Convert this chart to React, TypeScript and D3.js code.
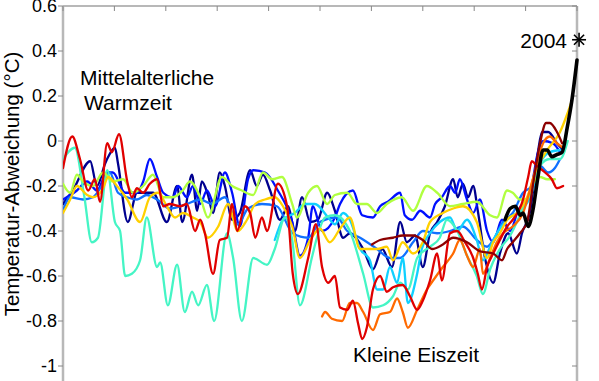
import React from "react";
import * as d3 from "d3";

// ---------- data ----------
const yTickValues = [0.6, 0.4, 0.2, 0, -0.2, -0.4, -0.6, -0.8, -1];
const yTickLabels = ["0.6", "0.4", "0.2", "0", "-0.2", "-0.4", "-0.6", "-0.8", "-1"];
const xTickYears = [1000, 1100, 1200, 1300, 1400, 1500, 1600, 1700, 1800, 1900, 2000];

const navyYears = [1000,1019,1053,1066,1082,1088,1101,1107,1126,1144,1160,1175,1202,1222,1232,1251,1261,1270,1282,1292,1305,1315,1329,1344,1364,1377,1389,1403,1422,1438,1451,1465,1481,1496,1514,1529,1545,1558,1584,1603,1621,1640,1656,1669,1685,1700,1714,1728,1743,1759,1768,1778,1788,1798,1807,1821,1837,1850,1866,1883,1893,1909,1924,1932,1944,1961,1973];
const navyValues = [-0.28,-0.22,-0.09,-0.20,-0.10,-0.07,-0.03,-0.10,-0.36,-0.23,-0.23,-0.23,-0.36,-0.20,-0.36,-0.15,-0.31,-0.18,-0.24,-0.32,-0.14,-0.20,-0.35,-0.32,-0.13,-0.20,-0.15,-0.22,-0.35,-0.29,-0.40,-0.25,-0.36,-0.35,-0.23,-0.31,-0.43,-0.41,-0.48,-0.57,-0.48,-0.56,-0.36,-0.45,-0.42,-0.56,-0.41,-0.36,-0.29,-0.17,-0.25,-0.19,-0.25,-0.20,-0.31,-0.52,-0.63,-0.50,-0.41,-0.50,-0.41,-0.31,-0.05,0.04,0.04,-0.01,-0.04];

const blueYears = [1000,1027,1047,1066,1086,1097,1121,1144,1156,1169,1183,1195,1214,1224,1241,1253,1267,1280,1296,1315,1329,1344,1360,1370,1393,1418,1446,1461,1477,1486,1504,1529,1539,1564,1582,1603,1617,1632,1656,1665,1679,1695,1714,1724,1737,1753,1763,1772,1786,1798,1811,1825,1837,1854,1870,1885,1909,1924,1934,1953,1967];
const blueValues = [-0.26,-0.22,-0.18,-0.22,-0.14,-0.14,-0.23,-0.23,-0.18,-0.08,-0.16,-0.23,-0.25,-0.20,-0.25,-0.20,-0.28,-0.22,-0.29,-0.14,-0.23,-0.38,-0.17,-0.13,-0.14,-0.22,-0.36,-0.51,-0.43,-0.29,-0.40,-0.34,-0.28,-0.22,-0.33,-0.34,-0.29,-0.27,-0.23,-0.33,-0.35,-0.31,-0.34,-0.28,-0.25,-0.20,-0.23,-0.17,-0.26,-0.32,-0.26,-0.40,-0.45,-0.35,-0.40,-0.31,-0.23,-0.05,0.00,-0.01,-0.05];

const azureYears = [1000,1014,1039,1058,1078,1091,1107,1125,1144,1163,1183,1208,1241,1267,1290,1315,1340,1360,1387,1416,1447,1477,1500,1533,1553,1578,1611,1636,1656,1681,1700,1728,1753,1778,1805,1825,1837,1856,1875,1895,1912,1928,1944,1957,1967];
const azureValues = [-0.31,-0.25,-0.26,-0.25,-0.19,-0.14,-0.23,-0.25,-0.26,-0.24,-0.26,-0.30,-0.28,-0.26,-0.28,-0.25,-0.37,-0.30,-0.28,-0.29,-0.41,-0.43,-0.36,-0.34,-0.40,-0.43,-0.48,-0.52,-0.52,-0.45,-0.40,-0.41,-0.40,-0.38,-0.44,-0.47,-0.44,-0.36,-0.32,-0.23,-0.20,-0.11,-0.14,-0.12,-0.08];

const cyanYears = [1412,1428,1451,1471,1490,1516,1529,1545,1558,1578,1597,1611,1623,1636,1650,1661,1671,1689,1698,1714,1733,1753,1767,1786,1805,1817,1831,1844,1864,1889,1909,1928,1947,1967];
const cyanValues = [-0.44,-0.35,-0.32,-0.28,-0.28,-0.34,-0.37,-0.32,-0.35,-0.48,-0.53,-0.66,-0.66,-0.56,-0.63,-0.52,-0.72,-0.59,-0.48,-0.41,-0.36,-0.34,-0.40,-0.35,-0.44,-0.53,-0.47,-0.41,-0.35,-0.31,-0.25,-0.10,-0.05,-0.04];

const aquaYears = [1000,1023,1041,1056,1068,1086,1101,1111,1121,1134,1150,1163,1183,1189,1204,1222,1237,1251,1263,1280,1294,1319,1331,1348,1370,1397,1412,1432,1446,1461,1484,1494,1510,1529,1558,1584,1603,1623,1642,1656,1671,1689,1714,1733,1747,1767,1786,1805,1817,1831,1850,1870,1889,1909,1928,1947,1967,1982];
const aquaValues = [-0.08,-0.03,-0.24,-0.45,-0.43,-0.13,-0.36,-0.40,-0.60,-0.59,-0.53,-0.34,-0.56,-0.54,-0.73,-0.55,-0.76,-0.67,-0.73,-0.64,-0.80,-0.41,-0.52,-0.80,-0.52,-0.55,-0.48,-0.34,-0.44,-0.73,-0.52,-0.43,-0.34,-0.33,-0.40,-0.59,-0.74,-0.73,-0.69,-0.63,-0.66,-0.52,-0.47,-0.43,-0.35,-0.40,-0.51,-0.60,-0.68,-0.57,-0.48,-0.42,-0.33,-0.22,-0.11,-0.08,-0.08,0.00];

const limeYears = [1000,1014,1027,1039,1058,1078,1097,1117,1136,1156,1175,1195,1214,1233,1247,1267,1282,1309,1329,1348,1370,1389,1407,1426,1446,1455,1477,1494,1514,1529,1553,1572,1591,1611,1630,1659,1681,1708,1728,1753,1778,1805,1831,1844,1864,1875,1889,1903,1914,1928,1942,1957];
const limeValues = [-0.19,-0.23,-0.15,-0.18,-0.20,-0.14,-0.18,-0.17,-0.23,-0.20,-0.15,-0.25,-0.25,-0.22,-0.18,-0.25,-0.34,-0.16,-0.20,-0.22,-0.24,-0.14,-0.17,-0.16,-0.28,-0.34,-0.23,-0.20,-0.28,-0.24,-0.23,-0.28,-0.28,-0.32,-0.28,-0.25,-0.31,-0.20,-0.23,-0.29,-0.28,-0.27,-0.33,-0.34,-0.22,-0.23,-0.26,-0.26,-0.19,-0.16,-0.17,-0.17];

const yellowYears = [1000,1014,1027,1047,1058,1078,1088,1105,1125,1150,1169,1185,1202,1218,1233,1253,1267,1282,1302,1321,1340,1358,1374,1393,1412,1428,1446,1461,1481,1500,1519,1539,1558,1578,1611,1630,1642,1661,1681,1700,1714,1739,1759,1778,1805,1825,1837,1850,1864,1883,1903,1922,1942,1967,1981,1990];
const yellowValues = [-0.32,-0.26,-0.20,-0.24,-0.25,-0.21,-0.16,-0.20,-0.26,-0.36,-0.25,-0.23,-0.29,-0.34,-0.32,-0.34,-0.36,-0.43,-0.38,-0.28,-0.40,-0.35,-0.28,-0.26,-0.25,-0.29,-0.38,-0.52,-0.44,-0.39,-0.45,-0.39,-0.34,-0.48,-0.48,-0.47,-0.53,-0.45,-0.50,-0.45,-0.36,-0.32,-0.30,-0.29,-0.36,-0.52,-0.45,-0.41,-0.35,-0.32,-0.25,-0.12,-0.04,0.04,0.12,0.18];

const orangeYears = [1504,1510,1523,1543,1558,1572,1584,1603,1617,1636,1650,1661,1671,1689,1708,1720,1739,1759,1772,1786,1798,1811,1817,1831,1844,1856,1875,1895,1914,1934,1947,1961,1973];
const orangeValues = [-0.78,-0.76,-0.79,-0.80,-0.72,-0.72,-0.76,-0.84,-0.77,-0.76,-0.70,-0.76,-0.83,-0.75,-0.66,-0.62,-0.56,-0.50,-0.44,-0.51,-0.56,-0.48,-0.59,-0.52,-0.45,-0.41,-0.38,-0.32,-0.17,-0.01,0.02,-0.01,-0.03];

const redYears = [1000,1018,1033,1049,1062,1072,1086,1095,1109,1125,1134,1144,1156,1169,1183,1195,1208,1228,1241,1257,1267,1276,1292,1305,1319,1329,1339,1354,1364,1374,1387,1397,1418,1436,1447,1457,1477,1492,1504,1516,1529,1539,1553,1564,1574,1582,1591,1603,1617,1630,1642,1661,1675,1689,1700,1714,1728,1737,1753,1767,1782,1798,1807,1815,1825,1837,1850,1864,1875,1895,1905,1912,1922,1938,1951,1961,1973];
const redValues = [-0.12,0.02,-0.08,-0.22,-0.17,-0.27,-0.01,-0.05,0.03,-0.18,-0.25,-0.21,-0.23,-0.19,-0.17,-0.29,-0.28,-0.29,-0.28,-0.40,-0.35,-0.41,-0.59,-0.44,-0.43,-0.28,-0.40,-0.29,-0.32,-0.43,-0.34,-0.40,-0.19,-0.29,-0.59,-0.68,-0.52,-0.37,-0.56,-0.63,-0.60,-0.74,-0.75,-0.71,-0.81,-0.88,-0.83,-0.66,-0.60,-0.67,-0.65,-0.64,-0.69,-0.75,-0.71,-0.62,-0.50,-0.62,-0.41,-0.40,-0.45,-0.52,-0.59,-0.66,-0.56,-0.50,-0.44,-0.38,-0.35,-0.26,-0.16,-0.09,-0.11,-0.14,-0.17,-0.21,-0.20];

const maroonYears = [1601,1617,1642,1661,1681,1700,1718,1739,1759,1786,1811,1837,1854,1864,1875,1889,1903,1914,1928,1940,1947,1961,1971];
const maroonValues = [-0.46,-0.44,-0.43,-0.42,-0.42,-0.44,-0.48,-0.46,-0.43,-0.45,-0.49,-0.50,-0.53,-0.48,-0.45,-0.41,-0.36,-0.20,-0.01,0.08,0.08,0.04,-0.01];

const instrumentYears = [1860,1870,1880,1890,1895,1905,1914,1924,1934,1942,1951,1961,1971,1981,1990,2000];
const instrumentValues = [-0.35,-0.30,-0.29,-0.33,-0.32,-0.38,-0.31,-0.16,-0.04,-0.04,-0.07,-0.06,-0.05,0.06,0.18,0.36];

const markerYear = 2004;
const markerValue = 0.45;
const markerLabel = "2004";

// ---------- styles ----------
const seriesList = [
  { years: navyYears, values: navyValues, color: "#00008f", width: 2.3 },
  { years: blueYears, values: blueValues, color: "#0010ff", width: 2.3 },
  { years: azureYears, values: azureValues, color: "#1070ff", width: 2.3 },
  { years: cyanYears, values: cyanValues, color: "#10d0ff", width: 2.3 },
  { years: aquaYears, values: aquaValues, color: "#45f5c5", width: 2.3 },
  { years: limeYears, values: limeValues, color: "#b0ff40", width: 2.3 },
  { years: yellowYears, values: yellowValues, color: "#ffd000", width: 2.3 },
  { years: orangeYears, values: orangeValues, color: "#ff6a00", width: 2.3 },
  { years: redYears, values: redValues, color: "#e00000", width: 2.3 },
  { years: maroonYears, values: maroonValues, color: "#8c0000", width: 2.3 },
  { years: instrumentYears, values: instrumentValues, color: "#000000", width: 3.6 },
];

const W = 599;
const H = 381;
const left = 63;
const right = 577;
const top = 6;
const FONT = "'Liberation Sans', Arial, Helvetica, sans-serif";
const AXIS = "#b8b8b8";
const TICK = "#888888";

export default function App() {
  const x = d3.scaleLinear().domain([1000, 2000]).range([left, right]);
  const y = d3.scaleLinear().domain([-1, 0.6]).range([366, top]);

  const line = d3
    .line<[number, number]>()
    .x((d) => x(d[0]))
    .y((d) => y(d[1]))
    .curve(d3.curveMonotoneX);

  const mx = x(markerYear);
  const my = y(markerValue);
  const r = 7;

  return (
    <svg
      width={W}
      height={H}
      style={{ position: "absolute", left: 0, top: 0, background: "#fff" }}
      fontFamily={FONT}
    >
      <rect x={0} y={0} width={W} height={H} fill="#fff" />
      <defs>
        <clipPath id="plotclip">
          <rect x={left} y={0} width={right - left + 3} height={H} />
        </clipPath>
      </defs>

      {/* axes frame */}
      <line x1={left} x2={left} y1={top} y2={H + 5} stroke={AXIS} strokeWidth={2.5} />
      <line x1={right} x2={right} y1={top} y2={H + 5} stroke={AXIS} strokeWidth={2.5} />
      <line x1={left} x2={right} y1={top} y2={top} stroke={AXIS} strokeWidth={2} />

      {/* ticks */}
      {yTickValues.map((v, i) => (
        <g key={"yt" + i}>
          <line x1={left - 5} x2={left} y1={y(v)} y2={y(v)} stroke={TICK} strokeWidth={1} />
          <line x1={right - 5} x2={right} y1={y(v)} y2={y(v)} stroke={TICK} strokeWidth={1} />
          <text
            x={left - 6}
            y={y(v)}
            dy="0.35em"
            textAnchor="end"
            fontSize={18}
            fill="#000"
          >
            {yTickLabels[i]}
          </text>
        </g>
      ))}
      {xTickYears.map((t, i) => (
        <line key={"xt" + i} x1={x(t)} x2={x(t)} y1={top} y2={top + 5} stroke={TICK} strokeWidth={1} />
      ))}

      {/* series */}
      <g clipPath="url(#plotclip)">
        {seriesList.map((s, i) => {
          const pts: [number, number][] = s.years
            .map((yr, j) => [yr, s.values[j]] as [number, number])
            .filter((p) => p[1] !== undefined && p[1] !== null);
          return (
            <path
              key={"s" + i}
              d={line(pts) || ""}
              fill="none"
              stroke={s.color}
              strokeWidth={s.width}
              strokeLinejoin="round"
              strokeLinecap="round"
            />
          );
        })}
      </g>

      {/* 2004 marker */}
      <g stroke="#000" strokeWidth={1.6}>
        <line x1={mx - r} x2={mx + r} y1={my} y2={my} />
        <line x1={mx} x2={mx} y1={my - r} y2={my + r} />
        <line x1={mx - r * 0.72} x2={mx + r * 0.72} y1={my - r * 0.72} y2={my + r * 0.72} />
        <line x1={mx - r * 0.72} x2={mx + r * 0.72} y1={my + r * 0.72} y2={my - r * 0.72} />
      </g>
      <text x={mx - 12} y={my + 8} textAnchor="end" fontSize={21} fill="#000">
        {markerLabel}
      </text>

      {/* annotations */}
      <text x={80} y={85} fontSize={21} fill="#000">Mittelalterliche</text>
      <text x={84} y={110} fontSize={21} fill="#000">Warmzeit</text>
      <text x={416} y={362} textAnchor="middle" fontSize={21} fill="#000">Kleine Eiszeit</text>

      {/* y label */}
      <text
        transform={`translate(19,184) rotate(-90)`}
        textAnchor="middle"
        fontSize={20.5}
        fill="#000"
      >
        Temperatur-Abweichung (°C)
      </text>
    </svg>
  );
}
